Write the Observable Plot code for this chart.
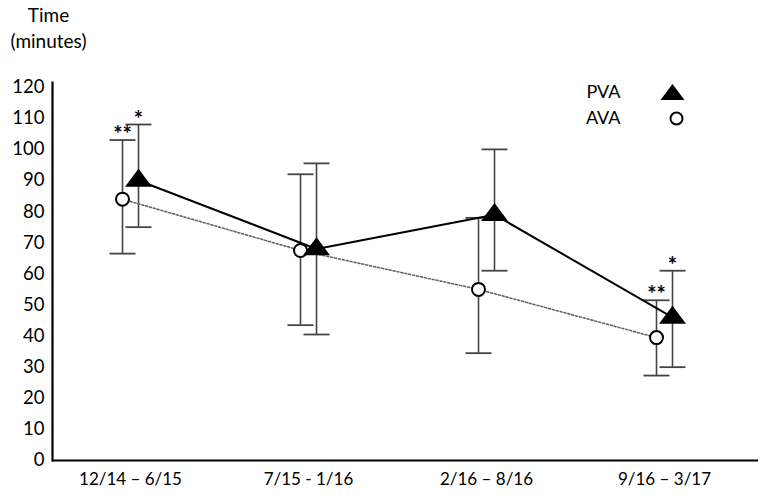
<!DOCTYPE html>
<html>
<head>
<meta charset="utf-8">
<script src="https://cdn.jsdelivr.net/npm/d3@7"></script>
<script src="https://cdn.jsdelivr.net/npm/@observablehq/plot@0.6"></script>
<style>
  html, body { margin: 0; padding: 0; background: #fff; }
  #chart svg { display: block; }
</style>
</head>
<body>
<div id="chart"></div>
<script>
const periods = ["12/14 – 6/15", "7/15 - 1/16", "2/16 – 8/16", "9/16 – 3/17"];
const pvaMean = [90, 68, 79, 46];
const pvaLow  = [75, 40.5, 61, 30];
const pvaHigh = [108, 95.5, 100, 61];
const avaMean = [84, 67.5, 55, 39.5];
const avaLow  = [66.5, 43.5, 34.5, 27.3];
const avaHigh = [103, 92, 78, 51.5];
const pvaStars = ["*", "", "", "*"];
const avaStars = ["**", "", "", "**"];
const yTicks = [0, 10, 20, 30, 40, 50, 60, 70, 80, 90, 100, 110, 120];

const pva = periods.map((p, i) => ({period: p, mean: pvaMean[i], low: pvaLow[i], high: pvaHigh[i], star: pvaStars[i]}));
const ava = periods.map((p, i) => ({period: p, mean: avaMean[i], low: avaLow[i], high: avaHigh[i], star: avaStars[i]}));

const capSymbol = {draw(ctx) { ctx.moveTo(-13, 0); ctx.lineTo(13, 0); }};
const triSymbol = {draw(ctx) { ctx.moveTo(0, -10.5); ctx.lineTo(12, 5.5); ctx.lineTo(-12, 5.5); ctx.closePath(); }};

const font = "Lato, 'Open Sans', sans-serif";
const OFF = 8;

const chart = Plot.plot({
  width: 760,
  height: 499,
  marginLeft: 52,
  marginRight: 2,
  marginTop: 82,
  marginBottom: 39,
  style: {fontFamily: font, fontSize: "18px", color: "#000", background: "#fff"},
  x: {type: "point", domain: periods, range: [130, 664], padding: 0, label: null},
  y: {domain: [0, 121.5], range: [460, 82], label: null},
  marks: [
    // error bars AVA
    Plot.ruleX(ava, {x: "period", y1: "low", y2: "high", dx: -OFF, stroke: "#444", strokeWidth: 1.6}),
    Plot.dot(ava, {x: "period", y: "low", dx: -OFF, symbol: capSymbol, stroke: "#444", strokeWidth: 1.8, r: 5}),
    Plot.dot(ava, {x: "period", y: "high", dx: -OFF, symbol: capSymbol, stroke: "#444", strokeWidth: 1.8, r: 5}),
    // error bars PVA
    Plot.ruleX(pva, {x: "period", y1: "low", y2: "high", dx: OFF, stroke: "#444", strokeWidth: 1.6}),
    Plot.dot(pva, {x: "period", y: "low", dx: OFF, symbol: capSymbol, stroke: "#444", strokeWidth: 1.8, r: 5}),
    Plot.dot(pva, {x: "period", y: "high", dx: OFF, symbol: capSymbol, stroke: "#444", strokeWidth: 1.8, r: 5}),
    // lines
    Plot.line(ava, {x: "period", y: "mean", dx: -OFF, stroke: "#666", strokeWidth: 1.6, strokeDasharray: "2,2"}),
    Plot.line(pva, {x: "period", y: "mean", dx: OFF, stroke: "#000", strokeWidth: 2}),
    // markers
    Plot.dot(ava, {x: "period", y: "mean", dx: -OFF, r: 6.5, fill: "#fff", stroke: "#000", strokeWidth: 2}),
    Plot.dot(pva, {x: "period", y: "mean", dx: OFF, symbol: triSymbol, r: 8, fill: "#000", stroke: "#000"}),
    // significance stars
    Plot.text(ava, {x: "period", y: "high", dx: -OFF, dy: -5, text: "star", fontSize: 22, fontWeight: "bold", fill: "#000"}),
    Plot.text(pva, {x: "period", y: "high", dx: OFF, dy: -5, text: "star", fontSize: 22, fontWeight: "bold", fill: "#000"}),
    // axes
    Plot.axisY({ticks: yTicks, tickSize: 0, tickPadding: 8, fontSize: 18.5, fill: "#000"}),
    Plot.axisX({tickSize: 0, tickPadding: 12, fontSize: 17, fill: "#000"}),
    Plot.ruleY([0], {stroke: "#000", strokeWidth: 2.2}),
    Plot.frame({anchor: "left", stroke: "#000", strokeWidth: 2.2}),
    // y title
    Plot.text(["Time"], {frameAnchor: "top-left", dx: -4, dy: -67, lineAnchor: "middle", fontSize: 19, textAnchor: "middle", fill: "#000"}),
    Plot.text(["(minutes)"], {frameAnchor: "top-left", dx: -4, dy: -41, lineAnchor: "middle", fontSize: 19, textAnchor: "middle", fill: "#000"}),
    // legend
    Plot.text(["PVA"], {frameAnchor: "top-right", dx: -138, dy: 10, lineAnchor: "middle", fontSize: 18, textAnchor: "end", fill: "#000"}),
    Plot.text(["AVA"], {frameAnchor: "top-right", dx: -138, dy: 36, lineAnchor: "middle", fontSize: 18, textAnchor: "end", fill: "#000"}),
    Plot.dot([0], {frameAnchor: "top-right", dx: -86, dy: 12, symbol: triSymbol, r: 8, fill: "#000"}),
    Plot.dot([0], {frameAnchor: "top-right", dx: -82, dy: 36, r: 6, fill: "#fff", stroke: "#000", strokeWidth: 2})
  ]
});
document.getElementById("chart").append(chart);
</script>
</body>
</html>
